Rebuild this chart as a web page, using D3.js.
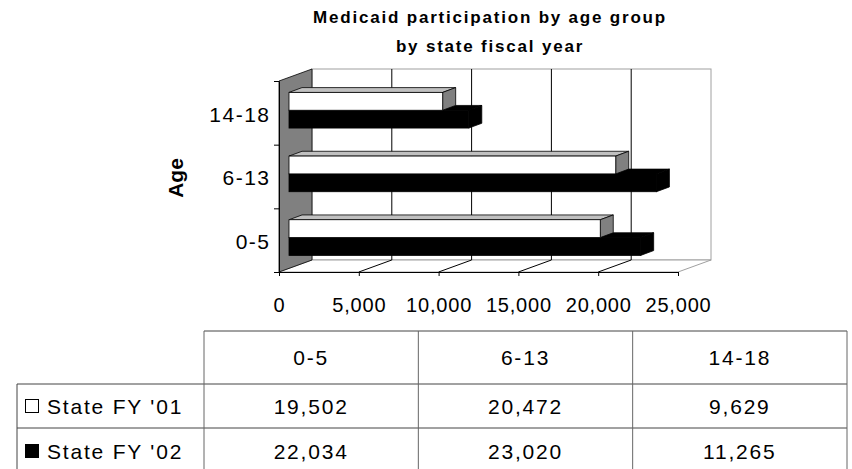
<!DOCTYPE html>
<html>
<head>
<meta charset="utf-8">
<script src="https://cdn.jsdelivr.net/npm/d3@7"></script>
<style>
  body { margin: 0; background: #fff; }
  svg { display: block; font-family: "Liberation Sans", Arial, sans-serif; }
</style>
</head>
<body>
<svg></svg>
<script>
const categories = ['0-5', '6-13', '14-18'];
const seriesNames = ["State FY '01", "State FY '02"];
const fy01 = [19502, 20472, 9629];
const fy02 = [22034, 23020, 11265];
const xTicks = [0, 5000, 10000, 15000, 20000, 25000];
const titleLines = ['Medicaid participation by age group', 'by state fiscal year'];

const width = 852;
const height = 469;

// front face of the 3d box and the depth offset
const plot = { left: 279, right: 678, top: 81, bottom: 272 };
const depth = { dx: 33, dy: -12 };
// bars sit in the middle of the box depth
const barShift = { dx: 10, dy: -3.6 };
const barDepth = { dx: 13, dy: -4.8 };

let svg = d3.select('svg').attr('width', width).attr('height', height);

let xScale = d3.scaleLinear().domain([0, 25000]).range([plot.left, plot.right]);
let yCat = d3.scaleBand().domain(categories).range([plot.bottom, plot.top]);
let yBars = d3.scaleBand().domain(categories).range([plot.bottom, plot.top])
    .paddingInner(0.44).paddingOuter(0.22);
let ySub = d3.scaleBand().domain([0, 1]).range([0, yBars.bandwidth()]);
let yEdge = d3.scaleLinear().domain([0, categories.length]).range([plot.bottom, plot.top]);

let pt = (x, y) => x + ',' + y;

let drawTitle = () => {
    svg.selectAll('.title')
        .data(titleLines)
        .enter()
        .append('text')
        .attr('class', 'title')
        .attr('x', 490)
        .attr('y', (d, i) => 23 + i * 29)
        .attr('text-anchor', 'middle')
        .style('font-size', '17px')
        .style('font-weight', 'bold')
        .style('letter-spacing', '1.8px')
        .text(d => d);
}

let drawBox = () => {
    let L = plot.left, R = plot.right, T = plot.top, B = plot.bottom;
    // back wall
    svg.append('rect')
        .attr('x', L + depth.dx).attr('y', T + depth.dy)
        .attr('width', R - L).attr('height', B - T)
        .attr('fill', '#fff').attr('stroke', '#a0a0a0');
    // floor
    svg.append('polygon')
        .attr('points', [pt(L, B), pt(R, B), pt(R + depth.dx, B + depth.dy), pt(L + depth.dx, B + depth.dy)].join(' '))
        .attr('fill', '#fff').attr('stroke', '#a0a0a0');
    // side wall
    svg.append('polygon')
        .attr('points', [pt(L, T), pt(L + depth.dx, T + depth.dy), pt(L + depth.dx, B + depth.dy), pt(L, B)].join(' '))
        .attr('fill', '#808080').attr('stroke', '#000').attr('stroke-width', 0.8);

    let inner = xTicks.slice(1, -1);
    // gridlines on back wall
    svg.selectAll('.grid')
        .data(inner)
        .enter()
        .append('line')
        .attr('x1', d => xScale(d) + depth.dx).attr('x2', d => xScale(d) + depth.dx)
        .attr('y1', T + depth.dy).attr('y2', B + depth.dy)
        .attr('stroke', '#000');
    // gridlines on floor
    svg.selectAll('.floorgrid')
        .data(inner)
        .enter()
        .append('line')
        .attr('x1', d => xScale(d)).attr('x2', d => xScale(d) + depth.dx)
        .attr('y1', B).attr('y2', B + depth.dy)
        .attr('stroke', '#000');
}

let drawBars = () => {
    let rows = [];
    categories.forEach((c, ci) => {
        // dark bar first, the white one covers its top face
        rows.push({ cat: c, s: 1, v: fy02[ci] });
        rows.push({ cat: c, s: 0, v: fy01[ci] });
    });

    let h = ySub.bandwidth();
    let bars = svg.selectAll('.bar')
        .data(rows)
        .enter()
        .append('g')
        .attr('class', 'bar');

    let geo = d => {
        let x0 = xScale(0) + barShift.dx;
        let x1 = xScale(d.v) + barShift.dx;
        let y0 = yBars(d.cat) + ySub(d.s) + barShift.dy + 1;
        return { x0, x1, y0 };
    }

    bars.append('polygon')
        .attr('points', d => {
            let g = geo(d);
            return [pt(g.x0, g.y0), pt(g.x1, g.y0), pt(g.x1 + barDepth.dx, g.y0 + barDepth.dy), pt(g.x0 + barDepth.dx, g.y0 + barDepth.dy)].join(' ');
        })
        .attr('fill', d => d.s === 0 ? '#c0c0c0' : '#000')
        .attr('stroke', '#000').attr('stroke-width', 0.8);

    bars.append('polygon')
        .attr('points', d => {
            let g = geo(d);
            return [pt(g.x1, g.y0), pt(g.x1 + barDepth.dx, g.y0 + barDepth.dy), pt(g.x1 + barDepth.dx, g.y0 + h + barDepth.dy), pt(g.x1, g.y0 + h)].join(' ');
        })
        .attr('fill', d => d.s === 0 ? '#808080' : '#000')
        .attr('stroke', '#000').attr('stroke-width', 0.8);

    bars.append('rect')
        .attr('x', d => geo(d).x0)
        .attr('y', d => geo(d).y0)
        .attr('width', d => geo(d).x1 - geo(d).x0)
        .attr('height', h)
        .attr('fill', d => d.s === 0 ? '#fff' : '#000')
        .attr('stroke', '#000').attr('stroke-width', 0.8);
}

let drawAxes = () => {
    let xAxis = d3.axisBottom(xScale)
        .tickValues(xTicks)
        .tickFormat(d3.format(','))
        .tickSize(4)
        .tickSizeOuter(0)
        .tickPadding(22);

    let gx = svg.append('g')
        .attr('transform', 'translate(0,' + plot.bottom + ')')
        .call(xAxis);
    gx.selectAll('text')
        .style('font-size', '20px')
        .style('letter-spacing', '0.8px')
        .attr('fill', '#000');

    let yAxis = d3.axisLeft(yEdge)
        .tickValues(d3.range(categories.length + 1))
        .tickFormat('')
        .tickSize(5)
        .tickSizeOuter(0);

    svg.append('g')
        .attr('transform', 'translate(' + plot.left + ',0)')
        .call(yAxis);

    let gl = svg.append('g')
        .attr('transform', 'translate(' + (plot.left - 10) + ',0)')
        .call(d3.axisLeft(yCat).tickSize(0).tickPadding(0));
    gl.select('.domain').remove();
    gl.selectAll('text')
        .attr('dy', '0.42em')
        .attr('x', 1.5)
        .style('font-size', '21px')
        .style('letter-spacing', '1.5px')
        .attr('fill', '#000');

    svg.append('text')
        .attr('transform', 'translate(183,178) rotate(-90)')
        .attr('text-anchor', 'middle')
        .style('font-size', '21px')
        .style('font-weight', 'bold')
        .text('Age');
}

let drawTable = () => {
    let colX = d3.scaleBand().domain(categories).range([204, 847]);
    let rowLines = [331, 384, 428];
    let rowBase = [365, 414, 459];
    let lineColor = '#444';
    let font = t => t.style('font-size', '21px').style('letter-spacing', '1.8px');

    // horizontal lines
    svg.append('line').attr('x1', 204).attr('x2', 847).attr('y1', rowLines[0]).attr('y2', rowLines[0]).attr('stroke', lineColor);
    svg.selectAll('.hrow')
        .data(rowLines.slice(1))
        .enter()
        .append('line')
        .attr('x1', 17).attr('x2', 847)
        .attr('y1', d => d).attr('y2', d => d)
        .attr('stroke', lineColor);
    // vertical lines
    svg.append('line').attr('x1', 17).attr('x2', 17).attr('y1', rowLines[1]).attr('y2', height).attr('stroke', lineColor);
    svg.selectAll('.vcol')
        .data(categories.concat(['end']))
        .enter()
        .append('line')
        .attr('x1', (d, i) => 204 + i * colX.bandwidth())
        .attr('x2', (d, i) => 204 + i * colX.bandwidth())
        .attr('y1', rowLines[0]).attr('y2', height)
        .attr('stroke', '#666');

    // header
    svg.selectAll('.thead')
        .data(categories)
        .enter()
        .append('text')
        .attr('x', d => colX(d) + colX.bandwidth() / 2)
        .attr('y', rowBase[0])
        .attr('text-anchor', 'middle')
        .call(font)
        .text(d => d);

    let fmt = d3.format(',');
    [fy01, fy02].forEach((vals, si) => {
        svg.selectAll('.cell' + si)
            .data(vals)
            .enter()
            .append('text')
            .attr('x', (d, i) => colX(categories[i]) + colX.bandwidth() / 2)
            .attr('y', rowBase[si + 1])
            .attr('text-anchor', 'middle')
            .call(font)
            .text(d => fmt(d));

        svg.append('rect')
            .attr('x', 25.5).attr('y', rowBase[si + 1] - 14.5)
            .attr('width', 13).attr('height', 13)
            .attr('fill', si === 0 ? '#fff' : '#000')
            .attr('stroke', '#000');

        svg.append('text')
            .attr('x', 47)
            .attr('y', rowBase[si + 1])
            .call(font)
            .text(seriesNames[si]);
    });
}

drawTitle();
drawBox();
drawBars();
drawAxes();
drawTable();
</script>
</body>
</html>
